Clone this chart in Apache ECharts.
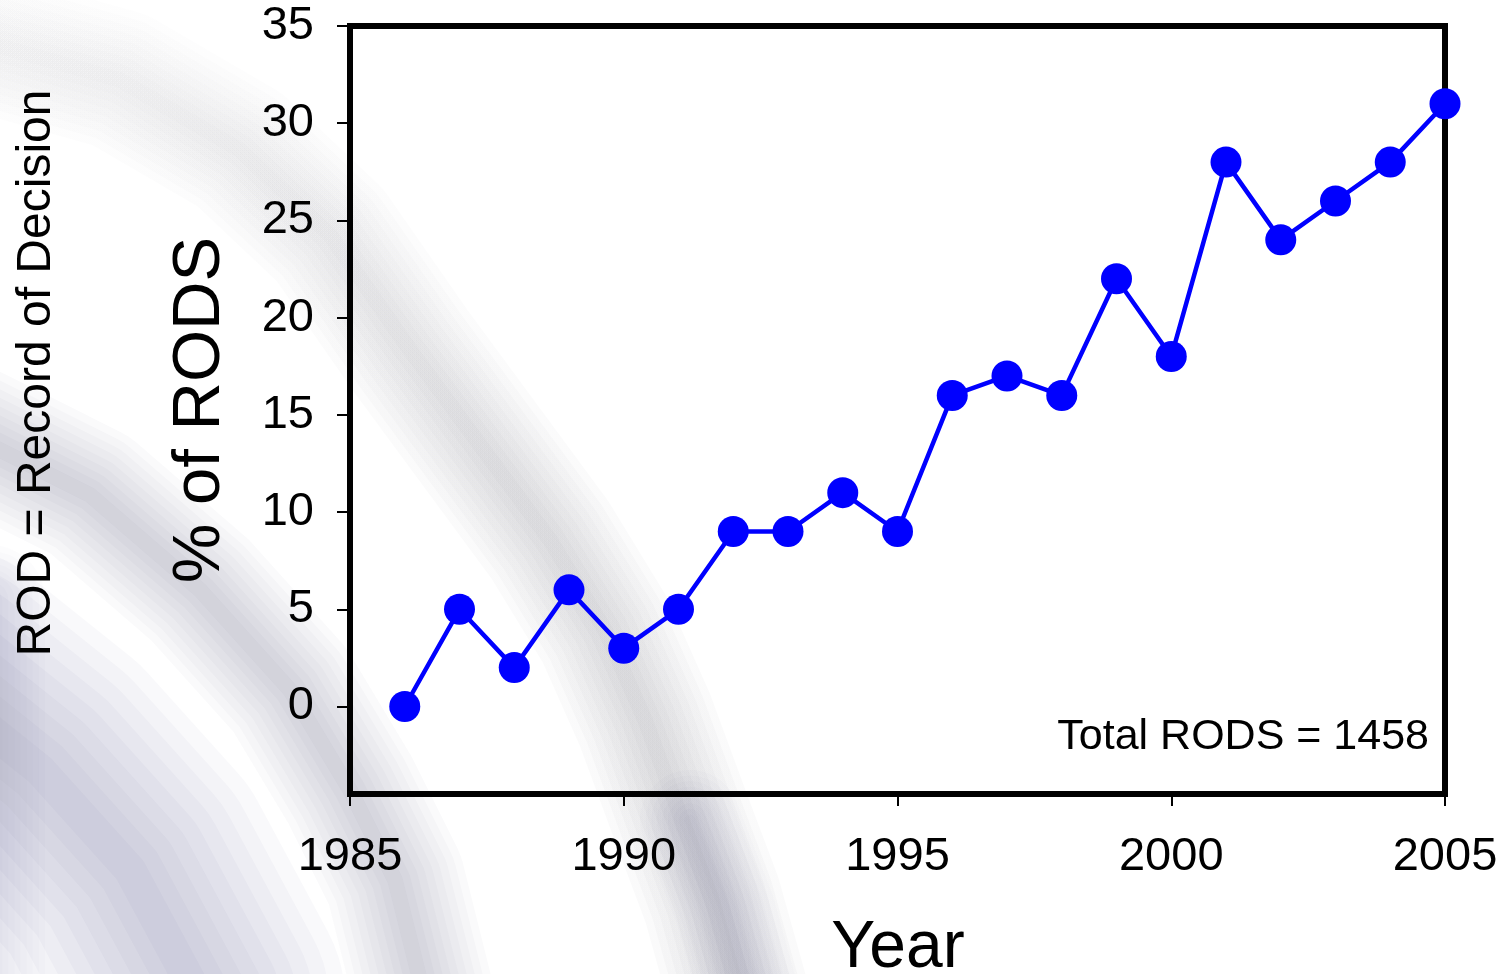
<!DOCTYPE html>
<html>
<head>
<meta charset="utf-8">
<script src="https://cdn.jsdelivr.net/npm/echarts@6/dist/echarts.min.js"></script>
<style>
  html, body { margin: 0; padding: 0; background: #ffffff; }
  #chart { width: 1505px; height: 974px; }
</style>
</head>
<body>
<div id="chart"></div>
<script>
// Share of Records of Decision per year
const years = [1986, 1987, 1988, 1989, 1990, 1991, 1992, 1993, 1994, 1995,
               1996, 1997, 1998, 1999, 2000, 2001, 2002, 2003, 2004, 2005];
const pctRods = [0, 5, 2, 6, 3, 5, 9, 9, 11, 9,
                 16, 17, 16, 22, 18, 28, 24, 26, 28, 31];
const yTickValues = [0, 5, 10, 15, 20, 25, 30, 35];
const totalLabel = 'Total RODS = 1458';
const yTitle = '% of RODS';
const xTitle = 'Year';
const noteText = 'ROD = Record of Decision';

const FONT = '"Liberation Sans", Arial, Helvetica, sans-serif';

// Soft diagonal streaks in the slide background: many stacked translucent
// strokes of shrinking width give a feathered edge.
function softBand(points, rgb, maxWidth, peakAlpha, fadeTop) {
  const steps = 9;
  const a = peakAlpha / steps;
  const out = [];
  for (let i = 0; i < steps; i++) {
    const w = maxWidth * (1 - i / steps);
    const stroke = fadeTop
      ? new echarts.graphic.LinearGradient(0, 0, 0, 1, [
          { offset: 0, color: `rgba(${rgb},${a * fadeTop})` },
          { offset: 0.45, color: `rgba(${rgb},${a * 0.85})` },
          { offset: 1, color: `rgba(${rgb},${a})` }
        ])
      : `rgba(${rgb},${a})`;
    out.push({
      type: 'polyline',
      z: -10,
      silent: true,
      shape: { points: points },
      style: { fill: null, stroke: stroke, lineWidth: w, lineCap: 'round', lineJoin: 'round' }
    });
  }
  return out;
}

const bands = [].concat(
  // long light streak from the top-left corner down through the plot
  softBand([[-40, 35], [120, 80], [240, 150], [330, 235], [410, 350], [480, 445],
            [550, 540], [605, 630], [645, 720], [680, 815], [712, 900], [740, 1000]],
           '70,70,85', 140, 0.24, 0.35),
  softBand([[690, 820], [725, 910], [750, 1000]], '90,80,140', 100, 0.14),
  // second streak lower left
  softBand([[-40, 430], [90, 495], [200, 590], [290, 690], [350, 790], [395, 880], [425, 1000]],
           '80,75,110', 140, 0.24),
  // broad lavender shadow in the bottom-left corner
  softBand([[-60, 690], [40, 770], [130, 870], [200, 1000]], '95,85,140', 290, 0.32),
  softBand([[-10, 600], [-10, 1000]], '95,85,140', 110, 0.18)
);

const chart = echarts.init(document.getElementById('chart'), null, { renderer: 'canvas' });

chart.setOption({
  backgroundColor: '#ffffff',
  animation: false,
  textStyle: { fontFamily: FONT },
  grid: {
    left: 350,
    right: 60,
    top: 26,
    bottom: 180,
    show: true,
    borderColor: '#000000',
    borderWidth: 6,
    backgroundColor: 'transparent',
    containLabel: false,
    outerBoundsMode: 'none'
  },
  xAxis: {
    type: 'value',
    min: 1985,
    max: 2005,
    interval: 5,
    axisLine: { show: false, onZero: false },
    axisTick: { show: true, length: 12, lineStyle: { color: '#000', width: 2 } },
    axisLabel: {
      margin: 40,
      color: '#000',
      fontSize: 47,
      fontFamily: FONT,
      formatter: v => String(v)
    },
    splitLine: { show: false }
  },
  yAxis: {
    type: 'value',
    min: -4.5,
    max: 35,
    axisLine: { show: false, onZero: false },
    axisTick: {
      show: true, length: 13, customValues: yTickValues,
      lineStyle: { color: '#000', width: 2 }
    },
    axisLabel: {
      margin: 36,
      color: '#000',
      fontSize: 47,
      fontFamily: FONT,
      customValues: yTickValues
    },
    splitLine: { show: false }
  },
  series: [{
    type: 'line',
    data: years.map((y, i) => [y, pctRods[i]]),
    symbol: 'circle',
    symbolSize: 31,
    clip: false,
    lineStyle: { color: '#0000ff', width: 4.5 },
    itemStyle: { color: '#0000ff' },
    z: 5
  }],
  graphic: bands.concat([
    {
      type: 'text',
      x: 37, y: 373,
      rotation: Math.PI / 2,
      style: {
        text: noteText, fill: '#000', font: `48px ${FONT}`,
        textAlign: 'center', textVerticalAlign: 'middle'
      }
    },
    {
      type: 'text',
      x: 201, y: 410,
      rotation: Math.PI / 2,
      style: {
        text: yTitle, fill: '#000', font: `67px ${FONT}`,
        textAlign: 'center', textVerticalAlign: 'middle'
      }
    },
    {
      type: 'text',
      x: 898, y: 949,
      style: {
        text: xTitle, fill: '#000', font: `66px ${FONT}`,
        textAlign: 'center', textVerticalAlign: 'middle'
      }
    },
    {
      type: 'text',
      x: 1429, y: 737,
      style: {
        text: totalLabel, fill: '#000', font: `43px ${FONT}`,
        textAlign: 'right', textVerticalAlign: 'middle'
      }
    }
  ])
});
</script>
</body>
</html>
